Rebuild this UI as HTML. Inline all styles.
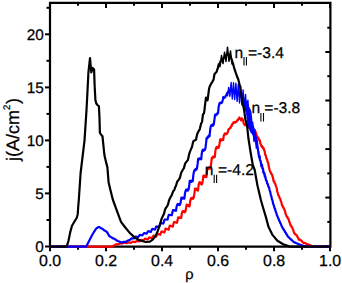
<!DOCTYPE html>
<html><head><meta charset="utf-8"><style>
html,body{margin:0;padding:0;background:#fff;}
svg{display:block;}
text{font-family:"Liberation Sans",sans-serif;fill:#000;stroke:#000;stroke-width:0.25px;text-rendering:geometricPrecision;}
</style></head><body>
<svg width="342" height="283" viewBox="0 0 342 283">
<rect width="342" height="283" fill="#fff"/>
<g stroke="#000" stroke-width="2" fill="none" stroke-linecap="butt">
<line x1="50.0" y1="246.6" x2="50.0" y2="251.3"/>
<line x1="50.0" y1="2.8" x2="50.0" y2="8.0"/>
<line x1="78.0" y1="246.6" x2="78.0" y2="249.7"/>
<line x1="78.0" y1="2.8" x2="78.0" y2="5.8"/>
<line x1="106.0" y1="246.6" x2="106.0" y2="251.3"/>
<line x1="106.0" y1="2.8" x2="106.0" y2="8.0"/>
<line x1="134.0" y1="246.6" x2="134.0" y2="249.7"/>
<line x1="134.0" y1="2.8" x2="134.0" y2="5.8"/>
<line x1="162.0" y1="246.6" x2="162.0" y2="251.3"/>
<line x1="162.0" y1="2.8" x2="162.0" y2="8.0"/>
<line x1="190.0" y1="246.6" x2="190.0" y2="249.7"/>
<line x1="190.0" y1="2.8" x2="190.0" y2="5.8"/>
<line x1="218.0" y1="246.6" x2="218.0" y2="251.3"/>
<line x1="218.0" y1="2.8" x2="218.0" y2="8.0"/>
<line x1="246.0" y1="246.6" x2="246.0" y2="249.7"/>
<line x1="246.0" y1="2.8" x2="246.0" y2="5.8"/>
<line x1="274.0" y1="246.6" x2="274.0" y2="251.3"/>
<line x1="274.0" y1="2.8" x2="274.0" y2="8.0"/>
<line x1="302.0" y1="246.6" x2="302.0" y2="249.7"/>
<line x1="302.0" y1="2.8" x2="302.0" y2="5.8"/>
<line x1="330.0" y1="246.6" x2="330.0" y2="251.3"/>
<line x1="330.0" y1="2.8" x2="330.0" y2="8.0"/>
<line x1="50.0" y1="246.5" x2="45.0" y2="246.5"/>
<line x1="50.0" y1="220.0" x2="46.5" y2="220.0"/>
<line x1="50.0" y1="193.4" x2="45.0" y2="193.4"/>
<line x1="50.0" y1="166.9" x2="46.5" y2="166.9"/>
<line x1="50.0" y1="140.4" x2="45.0" y2="140.4"/>
<line x1="50.0" y1="113.9" x2="46.5" y2="113.9"/>
<line x1="50.0" y1="87.4" x2="45.0" y2="87.4"/>
<line x1="50.0" y1="60.8" x2="46.5" y2="60.8"/>
<line x1="50.0" y1="34.3" x2="45.0" y2="34.3"/>
<line x1="50.0" y1="7.8" x2="46.5" y2="7.8"/>
<line x1="330.4" y1="246.2" x2="325.3" y2="246.2"/>
<line x1="330.4" y1="221.9" x2="327.3" y2="221.9"/>
<line x1="330.4" y1="197.6" x2="325.3" y2="197.6"/>
<line x1="330.4" y1="173.4" x2="327.3" y2="173.4"/>
<line x1="330.4" y1="149.1" x2="325.3" y2="149.1"/>
<line x1="330.4" y1="124.8" x2="327.3" y2="124.8"/>
<line x1="330.4" y1="100.5" x2="325.3" y2="100.5"/>
<line x1="330.4" y1="76.2" x2="327.3" y2="76.2"/>
<line x1="330.4" y1="52.0" x2="325.3" y2="52.0"/>
<line x1="330.4" y1="27.7" x2="327.3" y2="27.7"/>
</g>
<g font-size="15.3">
<text x="43.8" y="251.9" text-anchor="end">0</text><text x="43.8" y="198.8" text-anchor="end">5</text><text x="43.8" y="145.8" text-anchor="end">10</text><text x="43.8" y="92.8" text-anchor="end">15</text><text x="43.8" y="39.7" text-anchor="end">20</text>
<text x="50.1" y="265.6" text-anchor="middle" font-size="15.9">0.0</text><text x="106.1" y="265.6" text-anchor="middle" font-size="15.9">0.2</text><text x="162.1" y="265.6" text-anchor="middle" font-size="15.9">0.4</text><text x="218.1" y="265.6" text-anchor="middle" font-size="15.9">0.6</text><text x="274.1" y="265.6" text-anchor="middle" font-size="15.9">0.8</text><text x="330.1" y="265.6" text-anchor="middle" font-size="15.9">1.0</text>
</g>
<text x="189.5" y="279.2" font-size="14.6" text-anchor="middle">ρ</text>
<text transform="translate(19,161) rotate(-90)" font-size="18">j(A/cm<tspan font-size="9.6" dy="-9" dx="0">2</tspan><tspan dy="9" dx="0.6">)</tspan></text>
<path d="M50,2.8H330.4V246.6H50Z" fill="none" stroke="#000" stroke-width="2.2"/>
<g fill="none" stroke-width="2.2" stroke-linejoin="round" stroke-linecap="round">
<polyline stroke="#ff0000" points="50.00,246.60 111.50,246.60 114.00,245.45 114.60,245.12 115.20,244.78 115.80,244.41 116.40,244.27 117.00,244.23 117.60,244.20 118.20,244.20 118.80,243.95 119.40,243.70 120.00,243.42 120.60,243.33 121.20,243.35 121.80,243.43 122.40,243.52 123.00,243.29 123.60,243.04 124.20,242.78 124.80,242.77 125.40,242.88 126.00,243.00 126.60,243.14 127.20,242.89 127.80,242.63 128.40,242.35 129.00,242.42 129.60,242.60 130.20,242.77 130.80,242.89 131.40,242.51 132.00,242.11 132.60,241.70 133.20,241.76 133.80,241.90 134.40,242.04 135.00,242.20 135.60,241.76 136.20,241.31 136.80,240.84 137.40,240.97 138.00,241.14 138.60,241.32 139.20,241.51 139.80,241.02 140.40,240.45 141.00,239.86 141.60,240.00 142.20,240.16 142.80,240.33 143.40,240.53 144.00,239.87 144.60,239.18 145.20,238.56 145.80,238.77 146.40,238.99 147.00,239.23 147.60,239.49 148.20,238.71 148.80,237.90 149.40,237.27 150.00,237.51 150.60,237.73 151.20,237.97 151.80,238.21 152.40,237.22 153.00,236.18 153.60,235.59 154.20,235.85 154.80,236.11 155.40,236.39 156.00,236.68 156.60,235.50 157.20,234.26 157.80,233.90 158.40,234.18 159.00,234.36 159.60,234.56 160.20,234.76 160.80,233.23 161.40,231.61 162.00,231.45 162.60,231.67 163.20,231.91 163.80,232.16 164.40,232.43 165.00,230.54 165.60,228.57 166.20,228.78 166.80,229.01 167.40,229.25 168.00,229.51 168.60,229.78 169.20,227.47 169.80,225.64 170.40,225.80 171.00,225.98 171.60,226.19 172.20,226.41 172.80,226.65 173.40,223.99 174.00,222.00 174.60,222.14 175.20,222.28 175.80,222.38 176.40,222.67 177.00,222.71 177.60,219.86 178.20,217.26 178.80,217.72 179.40,217.31 180.00,217.80 180.60,217.33 181.20,218.00 181.80,213.73 182.40,211.67 183.00,210.97 183.60,211.92 184.20,211.17 184.80,212.30 185.40,211.51 186.00,208.59 186.60,204.61 187.20,205.81 187.80,204.94 188.40,206.09 189.00,205.22 189.60,206.44 190.20,201.04 190.80,198.80 191.40,197.93 192.00,199.02 192.60,197.74 193.20,198.56 193.80,197.30 194.40,193.39 195.00,188.52 195.60,189.37 196.20,188.61 196.80,190.00 197.40,189.26 198.00,190.68 198.60,184.99 199.20,182.76 199.80,182.09 200.40,183.62 201.00,182.96 201.60,184.50 202.20,183.84 202.80,180.36 203.40,175.66 204.00,176.83 204.60,175.77 205.20,176.95 205.80,175.88 206.40,177.06 207.00,170.99 207.60,168.44 208.20,167.38 208.80,168.61 209.40,167.55 210.00,168.79 210.60,167.72 211.20,163.31 211.80,157.83 212.40,158.45 213.00,156.74 213.60,157.37 214.20,156.08 214.80,157.15 215.40,150.83 216.00,148.25 216.60,146.93 217.20,147.99 217.80,146.81 218.40,147.96 219.00,146.69 219.60,143.60 220.20,139.42 220.80,140.46 221.40,139.35 222.00,140.31 222.60,139.13 223.20,139.91 223.80,135.49 224.40,134.18 225.00,133.32 225.60,134.24 226.20,133.29 226.80,134.02 227.40,133.04 228.00,131.68 228.60,129.01 229.20,129.12 229.80,128.16 230.40,128.06 231.00,126.30 231.60,126.10 232.20,124.04 232.80,123.90 233.40,122.30 234.00,122.76 234.60,121.86 235.20,122.62 235.80,121.82 236.40,121.93 237.00,120.44 237.60,120.55 238.20,119.00 238.80,119.01 239.40,117.42 240.00,118.78 240.60,119.20 241.20,120.41 241.80,118.29 242.40,119.07 243.00,120.30 243.60,123.25 244.20,124.21 244.80,125.07 245.40,124.14 246.00,125.03 246.60,124.42 247.20,126.05 247.80,125.82 248.40,127.53 249.00,126.52 249.60,127.45 250.20,126.38 250.80,127.61 251.40,127.38 252.00,129.30 252.60,129.38 253.20,130.57 253.80,129.63 254.40,130.85 255.00,130.03 255.60,132.15 256.20,133.27 256.80,136.65 257.40,136.38 258.00,138.44 258.60,138.21 259.20,140.32 259.80,140.19 260.40,143.72 261.00,144.83 261.60,146.70 262.20,146.21 262.80,148.05 263.40,147.57 264.00,149.77 264.60,151.03 265.20,154.72 265.80,155.48 266.40,158.48 267.00,159.25 267.60,162.09 268.20,162.75 268.80,166.92 269.40,168.94 270.00,171.62 270.60,171.96 271.20,174.05 271.80,174.05 272.40,176.29 273.00,177.75 273.60,181.24 274.20,181.27 274.80,183.42 275.40,184.01 276.00,186.59 276.60,187.34 277.20,191.27 277.80,193.19 278.40,195.49 279.00,195.90 279.60,198.21 280.20,198.64 280.80,200.95 281.40,202.38 282.00,205.57 282.60,205.76 283.20,207.75 283.80,207.95 284.40,209.91 285.00,210.93 285.60,213.93 286.20,215.14 286.80,216.89 287.40,216.95 288.00,218.67 288.60,219.01 289.20,221.68 289.80,222.68 290.40,225.27 291.00,225.40 291.60,227.07 292.20,227.28 292.80,229.34 293.40,230.44 294.00,232.77 294.60,233.37 295.20,234.40 295.80,234.26 296.40,235.29 297.00,235.61 297.60,237.30 298.20,237.97 298.80,239.55 299.40,239.29 300.00,239.91 300.60,239.76 301.20,240.63 301.80,241.02 302.40,242.03 303.00,242.40 303.60,242.96 304.20,242.78 304.80,243.10 305.40,243.16 306.00,243.69 306.60,243.87 307.20,244.29 307.80,244.34 308.40,244.59 309.00,244.75 309.60,245.04 313.40,246.60 330.00,246.60"/>
<polyline stroke="#0000ff" points="50.00,246.60 86.20,246.60 91.90,235.40 92.00,235.34 92.60,234.31 93.20,233.29 93.80,232.26 94.40,231.30 95.00,230.39 95.60,229.48 96.20,228.57 96.80,228.09 97.40,227.71 98.00,227.33 98.60,227.04 99.20,227.01 99.80,227.43 100.40,227.85 101.00,228.15 101.60,228.44 102.20,228.72 102.80,229.13 103.40,229.60 104.00,230.08 104.60,230.55 105.20,230.89 105.80,231.22 106.40,231.55 107.00,232.09 107.60,233.13 108.20,234.18 108.80,235.23 109.40,236.12 110.00,236.58 110.60,236.82 111.20,237.18 111.80,237.57 112.40,237.96 113.00,238.36 113.60,238.59 114.20,238.84 114.80,239.10 115.40,239.51 116.00,239.94 116.60,240.37 117.20,240.79 117.80,241.06 118.40,241.29 119.00,241.40 119.60,241.67 120.20,241.95 120.80,242.24 121.40,242.55 122.00,242.53 122.60,242.25 123.20,241.94 123.80,241.91 124.40,241.91 125.00,241.93 125.60,241.96 126.20,241.61 126.80,241.25 127.40,240.74 128.00,240.52 128.60,240.32 129.20,240.14 129.80,239.98 130.40,239.39 131.00,238.84 131.60,238.31 132.20,238.32 132.80,238.34 133.40,238.38 134.00,238.43 134.60,237.81 135.20,237.16 135.80,236.59 136.40,236.66 137.00,236.74 137.60,236.84 138.20,236.96 138.80,236.23 139.40,235.47 140.00,234.86 140.60,234.97 141.20,235.10 141.80,235.23 142.40,235.39 143.00,234.50 143.60,233.58 144.20,233.03 144.80,233.18 145.40,233.36 146.00,233.54 146.60,233.74 147.20,232.70 147.80,231.61 148.40,231.20 149.00,231.41 149.60,231.63 150.20,231.79 150.80,231.94 151.40,230.62 152.00,229.24 152.60,228.93 153.20,229.08 153.80,229.25 154.40,229.42 155.00,229.61 155.60,228.08 156.20,226.48 156.80,226.45 157.40,226.64 158.00,226.84 158.60,226.97 159.20,227.04 159.80,225.09 160.40,223.19 161.00,223.24 161.60,223.31 162.20,223.39 162.80,223.48 163.40,223.58 164.00,221.33 164.60,219.55 165.20,219.51 165.80,219.48 166.40,219.48 167.00,219.50 167.60,219.55 168.20,216.90 168.80,214.86 169.40,214.90 170.00,214.97 170.60,215.03 171.20,215.25 171.80,215.25 172.40,212.52 173.00,210.03 173.60,210.50 174.20,210.20 174.80,210.63 175.40,210.13 176.00,210.73 176.60,206.67 177.20,204.73 177.80,204.00 178.40,204.86 179.00,204.05 179.60,205.06 180.20,204.18 180.80,201.43 181.40,197.55 182.00,198.66 182.60,197.59 183.20,198.56 183.80,197.52 184.40,198.56 185.00,193.17 185.60,190.73 186.20,189.58 186.80,190.53 187.40,189.44 188.00,190.48 188.60,189.45 189.20,185.58 189.80,180.74 190.40,181.77 191.00,180.69 191.60,181.75 192.20,180.40 192.80,181.07 193.40,174.54 194.00,171.43 194.60,169.93 195.20,170.56 195.80,169.01 196.40,169.66 197.00,168.17 197.60,163.97 198.20,158.81 198.80,159.68 199.40,158.33 200.00,159.21 200.60,158.03 201.20,159.28 201.80,153.18 202.40,150.61 203.00,149.59 203.60,150.86 204.20,149.58 204.80,150.10 205.40,148.30 206.00,143.70 206.60,138.05 207.20,138.54 207.80,136.69 208.40,137.20 209.00,135.35 209.60,136.12 210.20,129.49 210.80,126.52 211.40,125.03 212.00,125.93 212.60,124.48 213.20,125.48 213.80,124.20 214.40,119.97 215.00,114.86 215.60,115.70 216.20,114.24 216.80,114.69 217.40,113.16 218.00,113.42 218.60,107.35 219.20,104.29 219.80,102.77 220.40,103.30 221.00,102.41 221.60,103.04 222.20,102.16 222.80,99.78 223.40,96.96 224.00,98.08 224.60,97.46 225.20,97.41 225.80,95.45 226.40,95.20 227.00,93.12 227.60,92.64 228.20,91.76 228.80,91.47 229.40,90.75 230.00,90.00 230.60,90.23 231.20,90.46 231.80,90.69 232.40,90.92 233.00,91.00 233.60,91.00 234.20,91.00 234.80,91.06 235.40,91.44 236.00,91.81 236.60,92.21 237.20,92.64 237.80,93.07 238.40,93.50 239.00,93.83 239.60,94.17 240.20,94.50 240.80,94.83 241.40,95.52 242.00,96.55 242.60,97.58 243.20,98.61 243.80,99.64 244.40,100.68 245.00,101.77 245.60,102.86 246.20,103.95 246.80,105.29 247.40,106.88 248.00,108.47 248.60,111.07 249.20,114.19 249.80,117.30 250.40,120.41 251.00,123.37 251.60,125.62 252.20,127.87 252.80,130.12 253.40,132.37 254.00,134.62 254.60,136.43 255.20,138.14 255.80,140.30 256.40,142.89 257.00,145.48 257.60,148.07 258.20,150.95 258.80,154.20 259.40,156.65 260.00,160.17 260.60,161.02 261.20,164.48 261.80,164.74 262.40,168.66 263.00,168.77 263.60,172.57 264.20,172.84 264.80,176.45 265.40,176.90 266.00,180.34 266.60,180.71 267.20,183.57 267.80,183.98 268.40,186.66 269.00,187.26 269.60,190.03 270.20,191.60 270.80,194.79 271.40,196.42 272.00,199.45 272.60,200.96 273.20,203.93 273.80,205.25 274.40,207.74 275.00,208.87 275.60,211.33 276.20,212.48 276.80,214.91 277.40,216.10 278.00,218.03 278.60,218.79 279.20,220.69 279.80,221.48 280.40,223.35 281.00,224.17 281.60,226.01 282.20,226.86 282.80,228.32 283.40,228.85 284.00,230.27 284.60,230.84 285.20,232.23 285.80,232.83 286.40,234.19 287.00,234.82 287.60,236.14 288.20,236.73 288.80,237.59 289.40,237.85 290.00,238.67 290.60,238.96 291.20,239.75 291.80,240.07 292.40,240.83 293.00,241.18 293.60,241.91 294.20,242.15 294.80,242.56 295.40,242.69 296.00,243.06 296.60,243.22 297.20,243.56 297.80,243.75 298.40,244.06 299.00,244.28 299.60,244.56 305.60,246.60 330.00,246.60"/>
<polyline stroke="#0000ff" stroke-width="1.4" points="227.50,95.82 228.70,87.46 229.90,96.29 231.10,82.41 232.30,99.05 233.50,82.69 234.70,99.46 235.90,83.14 237.10,101.33 238.30,84.52 239.50,103.05 240.70,85.99 241.90,105.01 243.10,89.95 244.30,108.89 245.50,94.39 246.70,113.22 247.90,100.11 249.10,121.65 250.30,112.05 251.50,132.94 252.70,122.21 253.90,141.30 255.10,131.41 256.30,148.15 257.50,143.14 258.70,157.32 259.90,155.81 261.10,166.57 262.30,164.51 263.50,173.61 264.70,173.68 265.90,180.13"/>
<polyline stroke="#0000ff" stroke-width="5.5" points="243.50,101.00 248.70,112.00 250.00,124.00 252.30,130.00"/>
<polyline stroke="#0000ff" stroke-width="3.5" points="252.30,130.00 254.40,135.00 256.50,142.00"/>
<polyline stroke="#000" points="50.00,246.60 66.70,246.60 68.50,240.70 70.30,231.90 72.00,225.70 74.20,222.00 76.80,217.70 77.70,214.20 78.20,207.00 78.80,200.00 80.60,173.00 84.50,140.60 86.50,110.00 87.30,95.00 88.40,72.70 90.00,58.20 91.30,72.50 92.70,68.00 94.10,69.50 94.60,85.00 95.40,100.00 96.30,103.50 97.70,105.20 98.90,106.30 99.50,118.00 99.90,132.90 101.50,135.20 102.50,136.30 104.40,155.00 106.10,162.40 107.40,167.40 108.60,182.20 110.30,189.60 112.80,199.50 117.30,211.90 121.00,221.80 124.90,227.00 129.70,232.90 135.50,238.10 140.00,240.40 145.70,242.00 149.90,241.60 152.70,239.60 155.50,236.10 157.70,231.10 159.80,224.80 160.00,224.79 160.50,222.77 161.00,220.73 161.50,219.12 162.00,217.87 162.50,216.85 163.00,215.84 163.50,214.80 164.00,213.71 164.50,211.76 165.00,209.80 165.50,208.43 166.00,207.75 166.50,207.09 167.00,206.37 167.50,205.41 168.00,204.46 168.50,202.54 169.00,200.59 169.50,199.23 170.00,198.28 170.50,197.34 171.00,196.41 171.50,195.48 172.00,194.57 172.50,193.02 173.00,191.57 173.50,190.78 174.00,190.45 174.50,189.44 175.00,187.97 175.50,186.51 176.00,185.77 176.50,184.02 177.00,182.27 177.50,181.23 178.00,180.67 178.50,180.11 179.00,179.29 179.50,178.39 180.00,177.50 180.50,175.46 181.00,173.42 181.50,172.10 182.00,171.25 182.50,170.41 183.00,169.56 183.50,168.71 184.00,167.86 184.50,165.87 185.00,164.05 185.50,162.94 186.00,162.32 186.50,161.69 187.00,161.06 187.50,160.43 188.00,159.80 188.50,157.27 189.00,154.75 189.50,152.94 190.00,151.60 190.50,150.27 191.00,149.13 191.50,148.04 192.00,146.93 192.50,144.62 193.00,142.32 193.50,141.08 194.00,140.84 194.50,140.60 195.00,140.36 195.50,140.12 196.00,139.68 196.50,137.27 197.00,134.85 197.50,133.15 198.00,132.20 198.50,131.44 199.00,130.68 199.50,129.78 200.00,128.30 200.50,125.92 201.00,123.99 201.50,122.77 202.00,122.00 202.50,118.13 203.00,114.26 203.50,113.78 204.00,113.28 204.50,109.84 205.00,105.14 205.50,101.14 206.00,97.66 206.50,98.87 207.00,100.08 207.50,100.40 208.00,97.23 208.50,93.20 209.00,89.20 209.50,87.01 210.00,86.00 210.50,84.97 211.00,83.94 211.50,83.08 212.00,82.50 213.60,79.40 214.50,74.00 216.50,72.00 219.00,65.00 221.00,60.50 222.70,59.00 224.30,57.60 226.00,55.50 227.20,54.00 228.60,54.50 230.10,55.80 231.20,58.00 232.80,63.00 234.70,69.70 236.50,75.00 238.30,79.50 240.00,86.50 241.30,95.40 242.70,103.00 244.10,110.00 245.50,120.00 247.10,126.00 248.50,139.00 250.70,153.00 252.80,165.00 254.70,170.00 257.40,185.30 260.90,200.00 262.80,206.70 265.70,216.40 268.60,227.10 272.50,234.90 277.40,240.70 283.20,244.20 290.00,246.60 330.00,246.60"/>
<polyline stroke="#000" stroke-width="1.5" points="217.00,70.60 218.50,64.00 220.00,66.60 221.50,55.48 223.00,63.54 224.50,52.24 226.00,61.50 227.50,47.19 229.00,61.37 230.50,50.95 232.00,64.00 233.50,63.79"/>
</g>
<g font-size="15.6">
<text x="234.5" y="58.4">n</text><text x="248" y="58.4">=-3.4</text>
<text x="251.5" y="113.4">n</text><text x="264.3" y="113.4">=-3.8</text>
<text x="204.7" y="175.4">n</text><text x="218" y="175.4">=-4.2</text>
</g>
<g stroke="#000" stroke-width="1.1">
<path d="M244,57V65.6M246.4,57V65.6"/>
<path d="M260.9,113V121.6M263.5,113V121.6"/>
<path d="M214.2,174.8V183M216.6,174.8V183"/>
</g>
</svg>
</body></html>
